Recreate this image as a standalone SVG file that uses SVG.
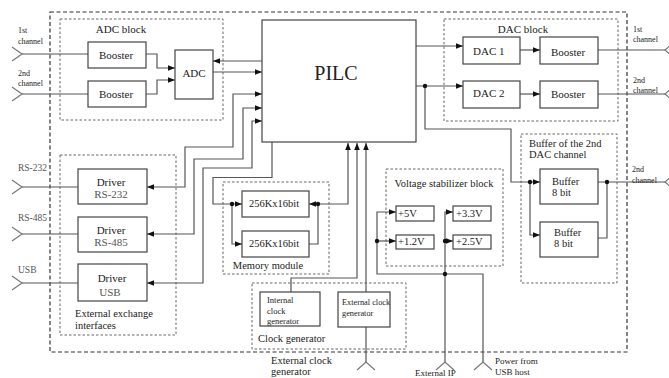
<svg xmlns="http://www.w3.org/2000/svg" width="669" height="378" viewBox="0 0 669 378">
<style>
.bg{fill:#fff}
.box{fill:#fff;stroke:#444;stroke-width:1.2}
.grp{fill:none;stroke:#666;stroke-width:1;stroke-dasharray:2.5 2}
.outer{fill:none;stroke:#333;stroke-width:1.2;stroke-dasharray:4 2.5}
.w{fill:none;stroke:#555;stroke-width:1.2}
.ch{fill:none;stroke:#777;stroke-width:1.2}
.t{font-family:"Liberation Serif","Times New Roman",serif;fill:#222;font-size:11px}
.s{font-size:8px}
.m{font-size:10.5px}
.c{text-anchor:middle}
.g{fill:#555}
.dot{fill:#111}
</style>
<defs>
<marker id="a" viewBox="0 0 10 10" refX="10" refY="5" markerWidth="7" markerHeight="7" markerUnits="userSpaceOnUse" orient="auto-start-reverse"><path d="M0,1 L10,5 L0,9 z" fill="#111"/></marker>
</defs>
<rect class="bg" x="0" y="0" width="669" height="378"/>

<g id="groups">
<rect class="outer" x="50" y="12" width="577" height="340"/>
<g id="adc-block"><rect class="grp" x="60" y="19" width="163" height="101"/><text class="t c" x="121" y="33">ADC block</text></g>
<g id="dac-block"><rect class="grp" x="444" y="19" width="174" height="102"/><text class="t c" x="523" y="33">DAC block</text></g>
<g id="ext-interfaces"><rect class="grp" x="60" y="155" width="116" height="180"/><text class="t m" x="75" y="317">External exchange</text><text class="t m" x="75" y="329">interfaces</text></g>
<g id="memory-module"><rect class="grp" x="223" y="182" width="106" height="92"/><text class="t m c" x="268" y="269">Memory module</text></g>
<g id="voltage-block"><rect class="grp" x="386" y="169" width="117" height="97"/><text class="t m c" x="444" y="187">Voltage stabilizer block</text></g>
<g id="buffer-block"><rect class="grp" x="521" y="134" width="96" height="149"/><text class="t m" x="529" y="147">Buffer of the 2nd</text><text class="t m" x="529" y="158">DAC channel</text></g>
<g id="clock-block"><rect class="grp" x="252" y="283" width="154" height="66"/><text class="t m" x="258" y="342">Clock generator</text></g>
</g>

<g id="connectors">
<path class="w" d="M22,54 H88"/>
<path class="w" d="M22,94 H88"/>
<path class="w" d="M146,54 H157 V68 H175" marker-end="url(#a)"/>
<path class="w" d="M146,94 H157 V80 H175" marker-end="url(#a)"/>
<path class="w" d="M262,61 H213" marker-end="url(#a)"/>
<path class="w" d="M213,72 H262" marker-end="url(#a)"/>
<path class="w" d="M147,187 H185 V147 H233 V94 H262" marker-start="url(#a)" marker-end="url(#a)"/>
<path class="w" d="M147,234 H194 V159 H243 V108 H262" marker-start="url(#a)" marker-end="url(#a)"/>
<path class="w" d="M147,283 H203 V168 H252 V121 H262" marker-start="url(#a)" marker-end="url(#a)"/>
<path class="w" d="M22,187 H78"/>
<path class="w" d="M22,234 H78"/>
<path class="w" d="M22,283 H78"/>
<path class="w" d="M272,142 V177.5 H213 V204 H242" marker-end="url(#a)"/>
<path class="w" d="M232,204 V244 H242" marker-end="url(#a)"/>
<path class="w" d="M348,143 V204 H309" marker-start="url(#a)" marker-end="url(#a)"/>
<path class="w" d="M318,204 V244 H309"/>
<path class="w" d="M357,143 V278 H291 V292" marker-start="url(#a)"/>
<path class="w" d="M366,143 V292" marker-start="url(#a)"/>
<path class="w" d="M366,327 V363"/>
<path class="w" d="M416,46 H463" marker-end="url(#a)"/>
<path class="w" d="M416,86 H463" marker-end="url(#a)"/>
<path class="w" d="M520,50 H540" marker-end="url(#a)"/>
<path class="w" d="M520,94 H540" marker-end="url(#a)"/>
<path class="w" d="M598,50 H665"/>
<path class="w" d="M598,94 H665"/>
<path class="w" d="M425,86 V129 H511 V182 H540" marker-end="url(#a)"/>
<path class="w" d="M530,182 V235 H540" marker-end="url(#a)"/>
<path class="w" d="M598,182 H665"/>
<path class="w" d="M607,182 V238 H598"/>
<path class="w" d="M396,212 H377 V274 H483 V363" marker-start="url(#a)"/>
<path class="w" d="M377,241 H396" marker-end="url(#a)"/>
<path class="w" d="M453,212 H445 V363" marker-start="url(#a)"/>
<path class="w" d="M445,241 H453" marker-end="url(#a)"/>
<circle class="dot" cx="232" cy="204" r="2.2"/>
<circle class="dot" cx="318" cy="204" r="2.2"/>
<circle class="dot" cx="425" cy="86" r="2.2"/>
<circle class="dot" cx="530" cy="182" r="2.2"/>
<circle class="dot" cx="607" cy="182" r="2.2"/>
<circle class="dot" cx="377" cy="241" r="2.2"/>
<circle class="dot" cx="445" cy="241" r="2.2"/>
<circle class="dot" cx="445" cy="274" r="2.2"/>
<path class="ch" d="M12,47 L22,54 L12,61"/>
<path class="ch" d="M12,87 L22,94 L12,101"/>
<path class="ch" d="M12,180 L22,187 L12,194"/>
<path class="ch" d="M12,227 L22,234 L12,241"/>
<path class="ch" d="M12,276 L22,283 L12,290"/>
<path class="ch" d="M673,43 L665,50 L673,57"/>
<path class="ch" d="M673,87 L665,94 L673,101"/>
<path class="ch" d="M673,175 L665,182 L673,189"/>
<path class="ch" d="M357,370 L366,362 L375,370"/>
<path class="ch" d="M436,370 L445,362 L454,370"/>
<path class="ch" d="M474,370 L483,362 L492,370"/>
</g>

<g id="labels">
<text class="t s" x="18" y="33">1st</text><text class="t s" x="18" y="44">channel</text>
<text class="t s" x="18" y="76">2nd</text><text class="t s" x="18" y="86">channel</text>
<text class="t s" x="633" y="32">1st</text><text class="t s" x="633" y="42">channel</text>
<text class="t s" x="633" y="83">2nd</text><text class="t s" x="633" y="93">channel</text>
<text class="t s" x="632" y="172">2nd</text><text class="t s" x="632" y="183">channel</text>
<text class="t g" style="font-size:9.5px" x="18" y="171">RS-232</text>
<text class="t g" style="font-size:9.5px" x="18" y="221">RS-485</text>
<text class="t g" style="font-size:9.5px" x="18" y="273">USB</text>
<text class="t m" x="271" y="364">External clock</text>
<text class="t m" x="271" y="375">generator</text>
<text class="t" style="font-size:9px" x="415" y="376">External IP</text>
<text class="t" style="font-size:9px" x="495" y="364">Power from</text>
<text class="t" style="font-size:9px" x="495" y="375">USB host</text>
</g>

<g id="booster1"><rect class="box" x="88" y="42" width="58" height="26"/><text class="t c" x="116" y="59">Booster</text></g>
<g id="booster2"><rect class="box" x="88" y="81" width="58" height="26"/><text class="t c" x="116" y="98">Booster</text></g>
<g id="adc"><rect class="box" x="175" y="50" width="38" height="49"/><text class="t c" x="194" y="77">ADC</text></g>
<g id="pilc"><rect class="box" x="262" y="20" width="154" height="122"/><text class="t c" style="font-size:20px" x="336" y="80">PILC</text></g>
<g id="dac1"><rect class="box" x="463" y="37" width="57" height="27"/><text class="t" x="473" y="55">DAC 1</text></g>
<g id="dac-booster1"><rect class="box" x="540" y="37" width="58" height="27"/><text class="t c" x="568" y="56">Booster</text></g>
<g id="dac2"><rect class="box" x="463" y="81" width="57" height="27"/><text class="t" x="473" y="97">DAC 2</text></g>
<g id="dac-booster2"><rect class="box" x="540" y="81" width="58" height="27"/><text class="t c" x="568" y="98">Booster</text></g>
<g id="driver-rs232"><rect class="box" x="78" y="169" width="69" height="35"/><text class="t c" x="111" y="186">Driver</text><text class="t c g" x="111" y="198">RS-232</text></g>
<g id="driver-rs485"><rect class="box" x="78" y="217" width="69" height="35"/><text class="t c" x="111" y="234">Driver</text><text class="t c g" x="111" y="246">RS-485</text></g>
<g id="driver-usb"><rect class="box" x="78" y="264" width="69" height="37"/><text class="t c" x="112" y="282">Driver</text><text class="t c g" x="110" y="296">USB</text></g>
<g id="mem1"><rect class="box" x="242" y="191" width="67" height="26"/><text class="t m c" x="274" y="207">256Kx16bit</text></g>
<g id="mem2"><rect class="box" x="242" y="231" width="67" height="26"/><text class="t m c" x="274" y="247">256Kx16bit</text></g>
<g id="v5"><rect class="box" x="396" y="206" width="38" height="15"/><text class="t m" x="398" y="217">+5V</text></g>
<g id="v33"><rect class="box" x="453" y="206" width="38" height="15"/><text class="t m" x="456" y="217">+3.3V</text></g>
<g id="v12"><rect class="box" x="396" y="235" width="38" height="14"/><text class="t m" x="398" y="245">+1.2V</text></g>
<g id="v25"><rect class="box" x="453" y="235" width="38" height="14"/><text class="t m" x="456" y="245">+2.5V</text></g>
<g id="buffer1"><rect class="box" x="540" y="169" width="58" height="35"/><text class="t m" x="552" y="185">Buffer</text><text class="t m" x="552" y="196">8 bit</text></g>
<g id="buffer2"><rect class="box" x="540" y="222" width="58" height="35"/><text class="t m" x="554" y="236">Buffer</text><text class="t m" x="554" y="247">8 bit</text></g>
<g id="internal-clock"><rect class="box" x="260" y="292" width="60" height="34"/><text class="t" style="font-size:8.5px" x="267" y="303">Internal</text><text class="t" style="font-size:8.5px" x="267" y="314">clock</text><text class="t" style="font-size:8.5px" x="267" y="324">generator</text></g>
<g id="external-clock"><rect class="box" x="338" y="292" width="52" height="35"/><text class="t" style="font-size:8.3px" x="342" y="305">External clock</text><text class="t" style="font-size:8.3px" x="342" y="316">generator</text></g>
</svg>
